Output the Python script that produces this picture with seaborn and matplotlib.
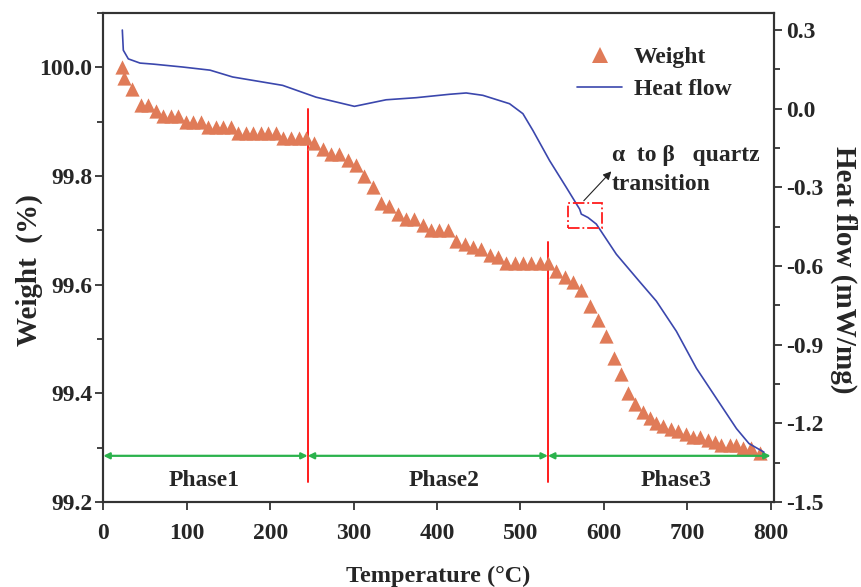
"""
    plot.py
    TGA / DSC curve: weight loss and heat flow against temperature.
"""
import matplotlib
matplotlib.use('Agg')
import matplotlib.pyplot as plt
from matplotlib.lines import Line2D
from matplotlib.patches import Rectangle
from matplotlib.ticker import MultipleLocator, FuncFormatter
import pandas as pd
import seaborn as sns

#################################################################################
# Data
#################################################################################

weight_temp = [22, 25, 34, 45, 54, 63, 72, 81, 90, 99, 108, 117, 126, 135, 144,
               153, 162, 171, 180, 189, 198, 207, 216, 225, 234, 243, 253, 263,
               273, 283, 293, 303, 313, 323, 333, 343, 353, 363, 373, 383, 393,
               403, 413, 423, 433, 443, 453, 463, 473, 483, 493, 503, 513, 523,
               533, 543, 553, 563, 573, 583, 593, 603, 612, 621, 629, 637, 647,
               655, 663, 671, 681, 689, 699, 707, 715, 725, 733, 741, 751, 759,
               767, 777, 787]
weight_pct = [100.00, 99.98, 99.96, 99.93, 99.93, 99.92, 99.91, 99.91, 99.91,
              99.90, 99.90, 99.90, 99.89, 99.89, 99.89, 99.89, 99.88, 99.88,
              99.88, 99.88, 99.88, 99.88, 99.87, 99.87, 99.87, 99.87, 99.86,
              99.85, 99.84, 99.84, 99.83, 99.82, 99.80, 99.78, 99.75, 99.745,
              99.73, 99.72, 99.72, 99.71, 99.70, 99.70, 99.70, 99.68, 99.675,
              99.67, 99.665, 99.655, 99.65, 99.64, 99.64, 99.64, 99.64, 99.64,
              99.64, 99.625, 99.615, 99.605, 99.59, 99.56, 99.535, 99.505,
              99.465, 99.435, 99.40, 99.38, 99.365, 99.355, 99.345, 99.34,
              99.335, 99.33, 99.325, 99.32, 99.32, 99.315, 99.31, 99.305,
              99.305, 99.305, 99.30, 99.30, 99.29]

heat_temp = [22.8, 24, 30, 44, 60, 95, 128, 155, 215, 255, 301, 339, 375, 415,
             435, 455, 487, 503, 515, 535, 555, 571, 573, 581, 591, 615, 643,
             663, 687, 711, 735, 759, 774, 792]
heat_flow = [0.30, 0.223, 0.19, 0.174, 0.17, 0.159, 0.147, 0.121, 0.089, 0.044,
             0.009, 0.034, 0.042, 0.055, 0.06, 0.051, 0.019, -0.019, -0.083,
             -0.198, -0.30, -0.383, -0.402, -0.415, -0.44, -0.555, -0.66,
             -0.734, -0.849, -0.99, -1.105, -1.22, -1.277, -1.31]

# Phase boundaries (temperature) and the extent of the marker lines (weight %).
phase_bounds = [245, 533]
bound_tops = [99.923, 99.679]
bound_bottom = 99.237
phase_edges = [0, 245, 533, 800]
phase_names = ['Phase1', 'Phase2', 'Phase3']
phase_label_x = [121, 408, 686]

# Alpha-to-beta quartz transition window on the heat-flow curve.
transition_box = (557, -0.456, 40.5, 0.098)

ORANGE = '#e07b58'
BLUE = '#3b47ad'
RED = '#ff1c1c'
GREEN = '#2bb24c'

#################################################################################
# Plotting
#################################################################################

def main():
    sns.set_style('ticks')
    plt.rcParams['font.family'] = ['Liberation Serif', 'DejaVu Serif']
    plt.rcParams['font.weight'] = 'bold'
    plt.rcParams['axes.labelweight'] = 'bold'
    label_size = 17.5
    ylabel_size = 21
    tick_size = 17
    text_size = 17

    fig = plt.figure(figsize=(8.62, 5.87), dpi=100)
    ax = fig.add_axes([103.3 / 862, 1 - 502 / 587, 670.7 / 862, 489 / 587])
    ax2 = ax.twinx()

    weight_df = pd.DataFrame({'temp': weight_temp, 'weight': weight_pct})
    heat_df = pd.DataFrame({'temp': heat_temp, 'heat': heat_flow})

    # Weight triangles.
    sns.scatterplot(data=weight_df, x='temp', y='weight', ax=ax, marker='^',
                    s=105, color=ORANGE, linewidth=0, zorder=3, legend=False)
    # Heat flow curve.
    sns.lineplot(data=heat_df, x='temp', y='heat', ax=ax2, color=BLUE,
                 linewidth=1.2, sort=False, legend=False)

    # Axis limits and ticks.
    ax.set_xlim(0, 804)
    ax.set_ylim(99.2, 100.1)
    ax2.set_ylim(-1.5, 0.365)
    ax.xaxis.set_major_locator(MultipleLocator(100))
    ax.yaxis.set_major_locator(MultipleLocator(0.2))
    ax.yaxis.set_minor_locator(MultipleLocator(0.1))
    ax2.yaxis.set_major_locator(MultipleLocator(0.3))
    ax2.yaxis.set_minor_locator(MultipleLocator(0.15))
    fmt = FuncFormatter(lambda v, _: f'{0.0 if abs(v) < 1e-9 else v:.1f}')
    ax.yaxis.set_major_formatter(fmt)
    ax2.yaxis.set_major_formatter(fmt)

    ax.tick_params(axis='both', which='major', direction='out', length=6,
                   width=1.3, labelsize=tick_size, color='#333333')
    ax.tick_params(axis='y', which='minor', direction='out', length=4,
                   width=1.3, color='#333333')
    ax.tick_params(axis='x', pad=9)
    ax.tick_params(axis='y', pad=2)
    ax2.tick_params(axis='y', which='major', direction='out', length=6,
                    width=1.3, labelsize=tick_size, color='#333333', pad=3)
    ax2.tick_params(axis='y', which='minor', direction='out', length=4,
                    width=1.3, color='#333333')
    for a in (ax, ax2):
        for spine in a.spines.values():
            spine.set_linewidth(1.5)
            spine.set_color('#333333')
        for lbl in a.get_xticklabels() + a.get_yticklabels():
            lbl.set_fontweight('bold')

    ax.set_xlabel('Temperature (°C)', fontsize=label_size, labelpad=16)
    ax.set_ylabel('Weight  (%)', fontsize=ylabel_size, va='center', ha='center')
    ax.yaxis.set_label_coords(-0.11, 0.475)
    ax2.set_ylabel('Heat flow (mW/mg)', fontsize=ylabel_size, rotation=270,
                   va='center', ha='center')
    ax2.yaxis.set_label_coords(1.104, 0.475)

    # Phase boundaries.
    for x, top in zip(phase_bounds, bound_tops):
        ax.plot([x, x], [bound_bottom, top], color=RED, linewidth=1.4, zorder=2)

    # Double-headed arrows spanning each phase, with names below.
    arrow_y = 99.285
    for left, right in zip(phase_edges[:-1], phase_edges[1:]):
        ax.annotate('', xy=(right, arrow_y), xytext=(left, arrow_y),
                    arrowprops=dict(arrowstyle='<|-|>', color=GREEN, lw=1.6,
                                    mutation_scale=9, shrinkA=0, shrinkB=0),
                    zorder=4)
    for name, x in zip(phase_names, phase_label_x):
        ax.text(x, 99.24, name, ha='center', va='center', fontsize=text_size,
                fontweight='bold')

    # Quartz transition marker.
    bx, by, bw, bh = transition_box
    ax2.add_patch(Rectangle((bx, by), bw, bh, fill=False, edgecolor=RED,
                            linestyle='-.', linewidth=1.3, zorder=5))
    ax2.annotate('', xy=(609, -0.239), xytext=(576, -0.351),
                 arrowprops=dict(arrowstyle='-|>', color='#222222', lw=0.8,
                                 mutation_scale=12, shrinkA=0, shrinkB=0))
    ax2.text(610, -0.179, 'α  to β   quartz', ha='left', va='center',
             fontsize=text_size, fontweight='bold')
    ax2.text(610, -0.288, 'transition', ha='left', va='center',
             fontsize=text_size, fontweight='bold')

    # Legend.
    handles = [Line2D([], [], marker='^', linestyle='', color=ORANGE,
                      markersize=11, markeredgewidth=0),
               Line2D([], [], color=BLUE, linewidth=1.2)]
    lg = ax.legend(handles, ['Weight', 'Heat flow'], loc='upper left',
                   bbox_to_anchor=(0.675, 0.975), frameon=False,
                   fontsize=text_size, handlelength=1.9, handletextpad=0.5,
                   labelspacing=0.45)
    for t in lg.get_texts():
        t.set_fontweight('bold')

    plt.savefig('out.png', dpi=100)


if __name__ == '__main__':
    main()
